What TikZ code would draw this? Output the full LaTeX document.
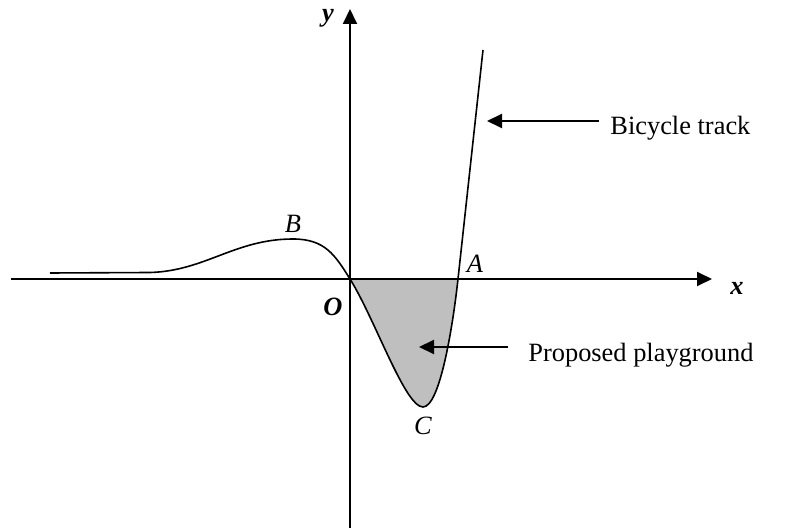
\documentclass[tikz,border=0pt]{standalone}
\usepackage{fontspec}
\setmainfont{Liberation Serif}
\usepackage{tikz}
\usetikzlibrary{arrows.meta,positioning}
\newcommand{\pfsize}{\fontsize{13.2}{15}\selectfont}
\tikzset{
  >={Triangle[length=7.5pt,width=7pt]},
  paxis/.style={->, black, line width=1pt},
  pcurve/.style={black, line width=0.8pt},
  pfill/.style={fill=gray!50},
  ppoint/.style={font=\pfsize\itshape, inner sep=0pt},
  pbold/.style={font=\pfsize\bfseries\itshape, inner sep=0pt},
  ptext/.style={font=\pfsize, anchor=base west, inner sep=0pt},
  ppointer/.style={->, black, line width=1pt},
}

\begin{document}
\begin{tikzpicture}[x=0.5pt,y=-0.5pt]
  \useasboundingbox (0,0) rectangle (789,529);

  % ejes
  \coordinate (xfrom) at (11,279);
  \coordinate (xto) at (712,279);
  \coordinate (yfrom) at (350,528);
  \coordinate (yto) at (350,9);

  % puntos de la pista
  \coordinate (start) at (50,273);
  \coordinate (B) at (293,239);
  \coordinate (O) at (350,279);
  \coordinate (C) at (423,407);
  \coordinate (A) at (458,279);
  \coordinate (top) at (483,50);

  % zona sombreada
  \fill[pfill] (O) .. controls (375,319) and (405,407) .. (C)
     .. controls (440,407) and (453,325) .. (A) -- cycle;

  \draw[paxis] (xfrom) -- (xto);
  \draw[paxis] (yfrom) -- (yto);

  % pista
  \draw[pcurve] (start) -- (150,272.5) .. controls (205,271) and (235,239) .. (B)
     .. controls (325,239) and (335,255) .. (O)
     .. controls (375,319) and (405,407) .. (C)
     .. controls (440,407) and (453,325) .. (A) -- (top);

  % etiquetas
  \node[pbold] (ylbl) at (328,18) {y};
  \node[pbold] (xlbl) at (737,288) {x};
  \node[pbold] (olbl) at (333,307) {O};
  \node[ppoint] (blbl) at (293,224) {B};
  \node[ppoint] (albl) at (475,264) {A};
  \node[ppoint] (clbl) at (423,426) {C};

  % flechas con texto
  \node[ptext] (bike) at (610,135) {Bicycle track};
  \coordinate (biketail) at (599,121);
  \coordinate (biketip) at (487,121);
  \draw[ppointer] (biketail) -- (biketip);

  \node[ptext] (play) at (528,362) {Proposed playground};
  \coordinate (playtail) at (508,347);
  \coordinate (playtip) at (419,347);
  \draw[ppointer] (playtail) -- (playtip);

\end{tikzpicture}
\end{document}
